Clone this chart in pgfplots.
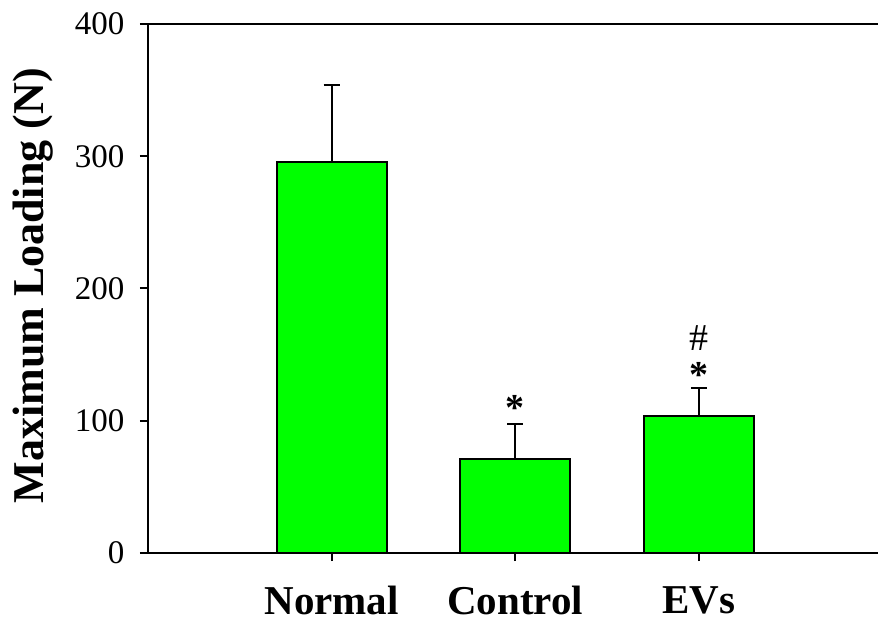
\documentclass[border=0pt]{standalone}
\usepackage{fontspec}
\setmainfont{Liberation Serif}
\usepackage{pgfplots}
\pgfplotsset{compat=1.18}
\definecolor{barg}{RGB}{0,255,0}
\begin{document}
\begin{tikzpicture}
\begin{axis}[
  scale only axis,
  width=730pt, height=529pt,
  xmin=-1, xmax=2.975,
  ymin=0, ymax=400,
  axis x line=box, axis y line=left,
  x axis line style={-}, y axis line style={-},
  axis line style={line width=2pt},
  xtick pos=left, ytick pos=left,
  tick align=outside,
  major tick length=8pt,
  tick style={line width=2pt, black},
  xtick=data,
  xticklabels={Normal,Control,EVs},
  ytick={0,100,200,300,400},
  /pgf/number format/assume math mode=true,
  yticklabel style={font=\fontsize{33}{40}\selectfont, xshift=-12pt},
  xticklabel style={font=\fontsize{41}{48}\selectfont\bfseries, yshift=-22pt},
  ylabel={Maximum Loading (N)},
  ylabel style={font=\fontsize{44}{52}\selectfont\bfseries, at={(axis description cs:-0.158,0.505)}, anchor=center},
  clip=false,
]
\addplot[ybar, bar width=0.6, fill=barg, draw=black, line width=2pt,
  error bars/.cd, y dir=plus, y explicit,
  error bar style={line width=2pt, black},
  error mark options={rotate=90, mark size=8pt, line width=2pt, black}]
  coordinates {
    (0,296) +- (0,58)
    (1,70.7) +- (0,27)
    (2,103.5) +- (0,21)
  };
\coordinate (sw) at (rel axis cs:0,0);
\coordinate (ne) at (rel axis cs:1,1);
\node[anchor=base, inner sep=0pt, font=\fontsize{38}{44}\selectfont\bfseries] at (axis cs:1,100.4) {*};
\node[anchor=base, inner sep=0pt, font=\fontsize{38}{44}\selectfont\bfseries] at (axis cs:2,125.4) {*};
\node[anchor=base, inner sep=0pt, font=\fontsize{38}{44}\selectfont] at (axis cs:2,153) {\#};
\end{axis}
\pgfresetboundingbox
\path ([xshift=-148pt,yshift=-70pt]sw) rectangle ([yshift=24pt]ne);
\end{tikzpicture}
\end{document}
